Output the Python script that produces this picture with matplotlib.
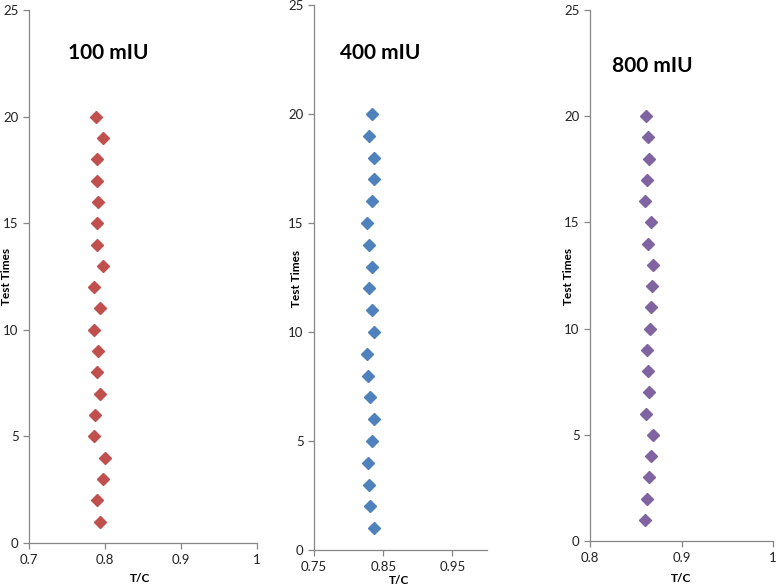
import matplotlib
matplotlib.use("Agg")
import matplotlib.pyplot as plt

plt.rcParams["font.family"] = ["Lato", "DejaVu Sans"]

# test number 1..20 on the y axis
test_times = list(range(1, 21))

# T/C readings, listed from test 1 to test 20
tc_100 = [0.793, 0.790, 0.797, 0.800, 0.786, 0.787, 0.793, 0.790, 0.791, 0.786,
          0.793, 0.785, 0.797, 0.789, 0.790, 0.791, 0.790, 0.789, 0.797, 0.788]
tc_400 = [0.837, 0.831, 0.829, 0.828, 0.8345, 0.836, 0.831, 0.828, 0.827, 0.836,
          0.8345, 0.830, 0.8345, 0.829, 0.827, 0.8345, 0.836, 0.837, 0.829, 0.8345]
tc_800 = [0.860, 0.862, 0.864, 0.867, 0.869, 0.861, 0.864, 0.863, 0.862, 0.866,
          0.867, 0.868, 0.869, 0.863, 0.867, 0.860, 0.862, 0.864, 0.863, 0.8614]

titles = ["100 mIU", "400 mIU", "800 mIU"]
series = [tc_100, tc_400, tc_800]
colors = ["#C0504D", "#4F81BD", "#8064A2"]
xlims = [(0.7, 1.0), (0.75, 1.0), (0.8, 1.0)]
xticks = [[0.7, 0.8, 0.9, 1.0], [0.75, 0.85, 0.95], [0.8, 0.9, 1.0]]
xticklabels = [["0.7", "0.8", "0.9", "1"], ["0.75", "0.85", "0.95"], ["0.8", "0.9", "1"]]

W, H = 778, 588
# plot areas in pixels: left, right, top, bottom
areas = [(29, 257, 10, 543), (314, 487, 5, 550), (590, 773, 10, 541)]
title_pos = [(68, 53), (340, 53), (612, 66)]
ylabel_pos = [(7, 276), (296, 278), (568, 276)]
xlabel_pos = [(140, 578), (399, 580), (681, 578)]

fig = plt.figure(figsize=(W / 100, H / 100), dpi=100)
axis_grey = "#868686"

for i in range(3):
    l, r, t, b = areas[i]
    ax = fig.add_axes([l / W, 1 - b / H, (r - l) / W, (b - t) / H])
    ax.plot(series[i], test_times, linestyle="none", marker="D",
            markersize=6, color=colors[i])
    ax.set_xlim(*xlims[i])
    ax.set_ylim(0, 25)
    ax.set_xticks(xticks[i])
    ax.set_xticklabels(xticklabels[i])
    ax.set_yticks([0, 5, 10, 15, 20, 25])
    for s in ["top", "right"]:
        ax.spines[s].set_visible(False)
    for s in ["left", "bottom"]:
        ax.spines[s].set_color(axis_grey)
        ax.spines[s].set_linewidth(0.9)
    ax.tick_params(axis="both", colors=axis_grey, length=4, width=0.9,
                   labelsize=9.5, labelcolor="#222222")
    ax.tick_params(axis="x", pad=4)
    ax.patch.set_alpha(0)

    tx, ty = title_pos[i]
    fig.text(tx / W, 1 - ty / H, titles[i], fontsize=15,
             fontweight="bold", va="center", ha="left")
    yx, yy = ylabel_pos[i]
    fig.text(yx / W, 1 - yy / H, "Test Times", fontsize=8.5, fontweight="bold",
             rotation=90, ha="center", va="center")
    xx, xy = xlabel_pos[i]
    fig.text(xx / W, 1 - xy / H, "T/C", fontsize=8.5, fontweight="bold",
             ha="center", va="center")

fig.savefig("out.png", dpi=100)
